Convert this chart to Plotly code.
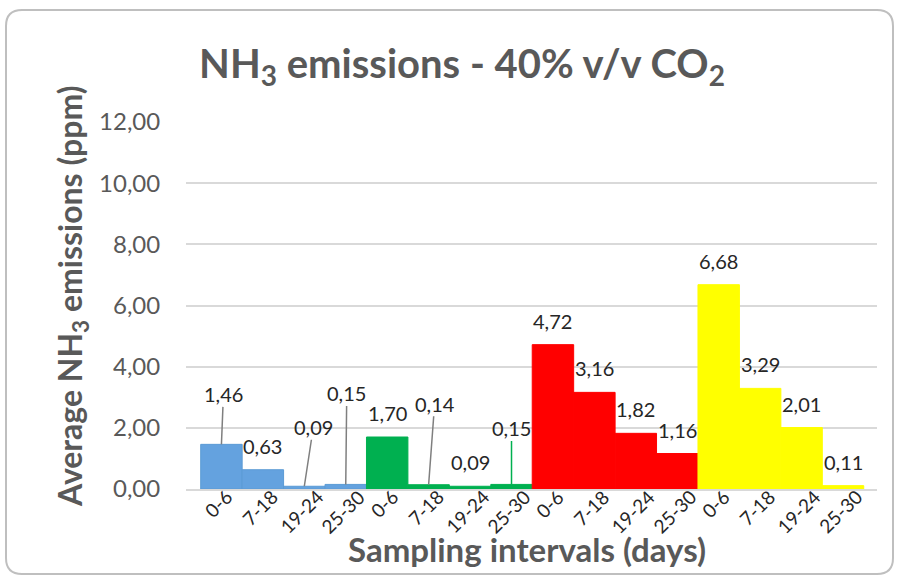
import plotly.graph_objects as go

intervals = ["0-6", "7-18", "19-24", "25-30"] * 4
values = [1.46, 0.63, 0.09, 0.15,
          1.70, 0.14, 0.09, 0.15,
          4.72, 3.16, 1.82, 1.16,
          6.68, 3.29, 2.01, 0.11]
group_colors = ["#64A2DF", "#00B050", "#FF0000", "#FFFF00"]
group_lines = ["#5B9BD5", "#00B050", "#FF0000", "#FFFF00"]
y_ticks = [0, 2, 4, 6, 8, 10, 12]

W, H = 901, 576
L, R, T, B = 186, 24, 122, 87
FONT = "Lato"
LABEL_C = "#262626"
AXIS_C = "#595959"

xs = list(range(len(values)))
colors = [group_colors[i // 4] for i in xs]
lines = [group_lines[i // 4] for i in xs]

fig = go.Figure(go.Bar(
    x=xs, y=values, width=1,
    marker=dict(color=colors, line=dict(color=lines, width=1)),
    hoverinfo="skip",
))

def fmt(v):
    return f"{v:.2f}".replace(".", ",")

pw = W - L - R
ph = H - T - B
def px(x):
    return (x - L) / pw
def py(y):
    return (H - B - y) / ph

# leader-line label offsets (pixels) for specific bars
leaders = {0: (2, -50, "#7F7F7F"), 2: (9, -59, "#7F7F7F"), 3: (1, -91, "#7F7F7F"),
           5: (6, -81, "#7F7F7F"), 7: (0, -56, "#00B050")}

anns = []
for i, v in zip(xs, values):
    if i in leaders:
        ax, ay, c = leaders[i]
        anns.append(dict(x=i, y=v, xref="x", yref="y", text=fmt(v), showarrow=True,
                         arrowhead=0, arrowwidth=1.5, arrowcolor=c, ax=ax, ay=ay,
                         standoff=0, borderpad=0,
                         font=dict(family=FONT, size=20, color=LABEL_C)))
    else:
        anns.append(dict(x=i, y=v, xref="x", yref="y", text=fmt(v), showarrow=False,
                         yanchor="middle", yshift=24,
                         font=dict(family=FONT, size=20, color=LABEL_C)))

# category tick labels, rotated like the original
for i, lab in zip(xs, intervals):
    anns.append(dict(x=i, y=py(484), xref="x", yref="paper", text=lab, showarrow=False,
                     textangle=-45, xanchor="center", yanchor="top", xshift=-3,
                     borderpad=0,
                     font=dict(family=FONT, size=19, color=LABEL_C)))

# axis titles
anns.append(dict(text="Sampling intervals (days)", xref="paper", yref="paper",
                 x=px(527), y=py(549), xanchor="center", yanchor="middle", showarrow=False,
                 font=dict(family=FONT, size=33, color=AXIS_C, weight="bold")))
anns.append(dict(text="Average NH<sub>3</sub> emissions (ppm)", xref="paper", yref="paper",
                 x=px(72), y=py(297), xanchor="center", yanchor="middle", showarrow=False,
                 textangle=-90,
                 font=dict(family=FONT, size=32, color=AXIS_C, weight="bold")))

# rounded outer border
x0, x1, y0, y1, r = 6, 893, 10, 574, 16
path = (f"M {px(x0 + r)},{py(y0)} L {px(x1 - r)},{py(y0)} "
        f"Q {px(x1)},{py(y0)} {px(x1)},{py(y0 + r)} L {px(x1)},{py(y1 - r)} "
        f"Q {px(x1)},{py(y1)} {px(x1 - r)},{py(y1)} L {px(x0 + r)},{py(y1)} "
        f"Q {px(x0)},{py(y1)} {px(x0)},{py(y1 - r)} L {px(x0)},{py(y0 + r)} "
        f"Q {px(x0)},{py(y0)} {px(x0 + r)},{py(y0)} Z")

fig.update_layout(
    width=W, height=H,
    margin=dict(l=L, r=R, t=T, b=B, autoexpand=False),
    paper_bgcolor="white", plot_bgcolor="white",
    separators=",.",
    showlegend=False,
    title=dict(text="NH<sub>3</sub> emissions - 40% v/v CO<sub>2</sub>",
               x=462 / W, xanchor="center", y=1 - 64 / H, yanchor="middle",
               font=dict(family=FONT, size=40, color=AXIS_C, weight="bold")),
    xaxis=dict(range=[-0.855, 15.82], tickmode="array", tickvals=xs,
               showticklabels=False, showgrid=False, zeroline=False, automargin=False,
               showline=True, linecolor="#D9D9D9", linewidth=1.5),
    yaxis=dict(range=[0, 12], tickvals=y_ticks, tickformat=".2f", automargin=False,
               showgrid=True, gridcolor="#D9D9D9", gridwidth=1.5, zeroline=False,
               tickfont=dict(family=FONT, size=24, color=AXIS_C), ticks="outside",
               ticklen=20, tickcolor="rgba(0,0,0,0)"),
    annotations=anns,
    shapes=[dict(type="path", path=path, xref="paper", yref="paper",
                 line=dict(color="#BFBFBF", width=2), layer="below")],
)

fig.write_html("out.html", config={"displayModeBar": False},
               post_script="document.body.style.margin='0';")
